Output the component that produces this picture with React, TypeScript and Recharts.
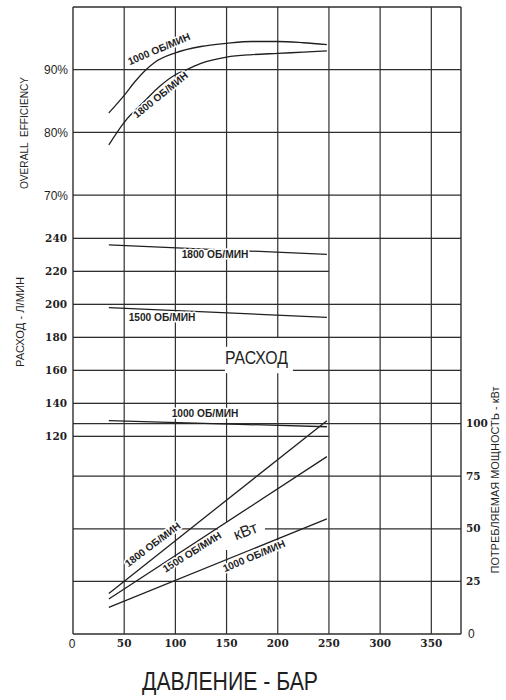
import React from 'react';
import { LineChart, Line, XAxis, YAxis, ReferenceLine } from 'recharts';

const W = 506;
const H = 700;

// Axis ticks
const pressureTicks = [0, 50, 100, 150, 200, 250, 300, 350];
const flowTicks = [120, 140, 160, 180, 200, 220, 240];
const powerTicks = [0, 25, 50, 75, 100];
const effTicks = [70, 80, 90];

// Overall efficiency, %, against pressure (bar)
const effPressure1000 = [35, 50, 60, 70, 80, 100, 125, 150, 175, 200, 225, 248];
const eff1000 = [83.1, 85.9, 88.0, 89.8, 91.2, 92.7, 93.7, 94.2, 94.5, 94.5, 94.3, 94.0];
const effPressure1800 = [35, 50, 70, 85, 100, 111, 125, 150, 175, 200, 225, 248];
const eff1800 = [78.0, 81.6, 85.0, 87.4, 89.2, 90.0, 91.0, 92.0, 92.4, 92.6, 92.8, 93.0];

// Flow (l/min) and absorbed power (kW): straight lines between end pressures
const linePressure = [35, 248];
const flow1800 = [235.8, 230.1];
const flow1500 = [197.8, 191.9];
const flow1000 = [129.3, 125.6];
const power1800 = [19.3, 101.4];
const power1500 = [16.6, 84.3];
const power1000 = [12.7, 54.7];

const rows = (ps: number[], vs: number[]) => ps.map((p, i) => ({ p, v: vs[i] }));

const X_MAX = 379;
const FLOW_MAX = 380;
const POWER_MAX = 298;
const EFF_MAX = 100;

// Plot box (chart margins + axis sizes)
const M_TOP = 7;
const M_BOTTOM = 36;
const X_AXIS_H = 30;
const LEFT_W = 73;
const RIGHT_W = 45;
const PLOT_L = LEFT_W;
const PLOT_R = W - RIGHT_W;
const PLOT_T = M_TOP;
const PLOT_B = H - M_BOTTOM - X_AXIS_H;

// Linear maps matching the chart's pressure and flow axes
const px = (p: number) => PLOT_L + (p / X_MAX) * (PLOT_R - PLOT_L);
const pyFlow = (v: number) => PLOT_B - (v / FLOW_MAX) * (PLOT_B - PLOT_T);

const INK = '#1f1f1f';
const GRID = '#2e2e2e';
const GW = 1.2;

const SERIF_BOLD = { fontFamily: '"DejaVu Serif", serif', fontWeight: 700, fontSize: 10.5, fill: INK };
const SANS = '"Liberation Sans", Arial, sans-serif';
const NARROW = '"Liberation Sans Narrow", "Arial Narrow", "Liberation Sans", sans-serif';

const XTick = (props: any) => {
  const { x, y, payload } = props;
  if (payload.value === 0) {
    return (
      <text x={x - 1} y={y + 14} textAnchor="middle" fontFamily={SANS} fontSize={12} fill={INK}>0</text>
    );
  }
  return (
    <text x={x} y={y + 13} textAnchor="middle" {...SERIF_BOLD}>{payload.value}</text>
  );
};

const FlowTick = (props: any) => {
  const { x, y, payload } = props;
  return (
    <text x={x - 6} y={y + 4} textAnchor="end" {...SERIF_BOLD}>{payload.value}</text>
  );
};

const PowerTick = (props: any) => {
  const { x, y, payload } = props;
  if (payload.value === 0) {
    return (
      <text x={x + 7} y={y + 4} textAnchor="start" fontFamily={SANS} fontSize={12} fill={INK}>0</text>
    );
  }
  return (
    <text x={x + 5} y={y + 3.5} textAnchor="start" {...SERIF_BOLD}>{payload.value}</text>
  );
};

const effLabel = (v: number) => (props: any) => {
  const vb = props.viewBox || {};
  return (
    <text x={vb.x - 5} y={vb.y + 4.5} textAnchor="end" fontFamily={SANS} fontSize={12} fill={INK}>
      {`${v}%`}
    </text>
  );
};

type Seg = [number, number];
const RATED = 250;

// Horizontal grid, as pressure spans on each scale
const flowGrid: { v: number; segs: Seg[] }[] = [
  { v: 240, segs: [[0, X_MAX]] },
  { v: 220, segs: [[0, RATED]] },
  { v: 200, segs: [[0, X_MAX]] },
  { v: 180, segs: [[0, X_MAX]] },
  { v: 160, segs: [[0, 148.4], [214.8, X_MAX]] },
  { v: 140, segs: [[0, X_MAX]] },
  { v: 120, segs: [[0, RATED]] },
];
const powerGrid: { v: number; segs: Seg[] }[] = [
  { v: 100, segs: [[0, X_MAX]] },
  { v: 75, segs: [[0, X_MAX]] },
  { v: 50, segs: [[0, 141.6], [187.5, X_MAX]] },
  { v: 25, segs: [[0, X_MAX]] },
];
// Vertical grid, spans on the efficiency scale (0..100 over the full height)
const verticalGrid: { v: number; segs: Seg[] }[] = [
  { v: 50, segs: [[0, 100]] },
  { v: 100, segs: [[0, 100]] },
  { v: 150, segs: [[0, 13.4], [17.9, 41.6], [45.8, 100]] },
  { v: 200, segs: [[0, 41.6], [47.2, 100]] },
  { v: 250, segs: [[0, 100]] },
  { v: 300, segs: [[0, 100]] },
  { v: 350, segs: [[0, 100]] },
];

const CurveLabel = ({ x, y, rot, text }: { x: number; y: number; rot: number; text: string }) => (
  <text
    transform={`translate(${x},${y}) rotate(${rot})`}
    textAnchor="middle"
    dominantBaseline="central"
    fontFamily={SANS}
    fontWeight={700}
    fontSize={10.2}
    fill={INK}
    stroke="#fff"
    strokeWidth={3}
    strokeLinejoin="round"
    style={{ paintOrder: 'stroke' }}
  >
    {text}
  </text>
);

export default function App() {
  const lineProps = { dataKey: 'v', dot: false, activeDot: false, stroke: INK, strokeWidth: 1.3, isAnimationActive: false } as const;
  const refProps = { stroke: GRID, strokeWidth: GW, ifOverflow: 'visible' } as const;
  return (
    <div style={{ position: 'absolute', left: 0, top: 0, width: W, height: H, background: '#fff' }}>
      <LineChart width={W} height={H} margin={{ top: M_TOP, right: 0, bottom: M_BOTTOM, left: 0 }}>
        <XAxis
          type="number"
          dataKey="p"
          domain={[0, X_MAX]}
          allowDataOverflow
          ticks={pressureTicks}
          interval={0}
          height={X_AXIS_H}
          axisLine={false}
          tickLine={false}
          tickSize={0}
          tickMargin={0}
          tick={<XTick />}
        />
        <YAxis
          yAxisId="flow"
          orientation="left"
          width={LEFT_W}
          type="number"
          domain={[0, FLOW_MAX]}
          allowDataOverflow
          ticks={flowTicks}
          interval={0}
          axisLine={false}
          tickLine={false}
          tickSize={0}
          tickMargin={0}
          tick={<FlowTick />}
        />
        <YAxis
          yAxisId="pow"
          orientation="right"
          width={RIGHT_W}
          type="number"
          domain={[0, POWER_MAX]}
          allowDataOverflow
          ticks={powerTicks}
          interval={0}
          axisLine={false}
          tickLine={false}
          tickSize={0}
          tickMargin={0}
          tick={<PowerTick />}
        />
        <YAxis yAxisId="eff" hide width={0} domain={[0, EFF_MAX]} allowDataOverflow type="number" />

        {/* efficiency grid with its tick labels */}
        {effTicks.map((v) => (
          <ReferenceLine key={`e${v}`} yAxisId="eff" y={v} {...refProps} label={effLabel(v)} />
        ))}
        {powerGrid.map(({ v, segs }) =>
          segs.map(([a, b], i) => (
            <ReferenceLine
              key={`p${v}-${i}`}
              yAxisId="pow"
              segment={[{ x: a, y: v }, { x: b, y: v }]}
              {...refProps}
            />
          ))
        )}
        {verticalGrid.map(({ v, segs }) =>
          segs.map(([a, b], i) => (
            <ReferenceLine
              key={`v${v}-${i}`}
              yAxisId="eff"
              segment={[{ x: v, y: a }, { x: v, y: b }]}
              {...refProps}
            />
          ))
        )}

        {/* frame */}
        <ReferenceLine yAxisId="eff" segment={[{ x: 0, y: 0 }, { x: 0, y: 100 }]} {...refProps} strokeWidth={1.4} />
        <ReferenceLine yAxisId="eff" segment={[{ x: X_MAX, y: 0 }, { x: X_MAX, y: 100 }]} {...refProps} strokeWidth={1.4} />
        <ReferenceLine yAxisId="eff" segment={[{ x: 0, y: 0 }, { x: X_MAX, y: 0 }]} {...refProps} strokeWidth={1.4} />
        <ReferenceLine yAxisId="eff" segment={[{ x: 0, y: 100 }, { x: X_MAX, y: 100 }]} {...refProps} strokeWidth={1.4} />

        {/* curves */}
        <Line {...lineProps} yAxisId="eff" type="monotone" data={rows(effPressure1000, eff1000)} />
        <Line {...lineProps} yAxisId="eff" type="monotone" data={rows(effPressure1800, eff1800)} />
        <Line {...lineProps} yAxisId="flow" type="linear" data={rows(linePressure, flow1800)} />
        <Line {...lineProps} yAxisId="flow" type="linear" data={rows(linePressure, flow1500)} />
        <Line {...lineProps} yAxisId="flow" type="linear" data={rows(linePressure, flow1000)} />
        <Line {...lineProps} yAxisId="pow" type="linear" data={rows(linePressure, power1800)} />
        <Line {...lineProps} yAxisId="pow" type="linear" data={rows(linePressure, power1500)} />
        <Line {...lineProps} yAxisId="pow" type="linear" data={rows(linePressure, power1000)} />
      </LineChart>

      <svg
        width={W}
        height={H}
        style={{ position: 'absolute', left: 0, top: 0, pointerEvents: 'none' }}
      >
        {/* flow grid levels, as thin filled bars */}
        {flowGrid.map(({ v, segs }) =>
          segs.map(([a, b], i) => (
            <rect
              key={`fg${v}-${i}`}
              x={px(a)}
              width={px(b) - px(a)}
              y={pyFlow(v) - 0.3}
              height={1.3}
              fill={GRID}
            />
          ))
        )}

        {/* axis titles */}
        <text
          transform="translate(24,133) rotate(-90)"
          textAnchor="middle"
          dominantBaseline="central"
          fontFamily={NARROW}
          fontSize={11}
          fill={INK}
          textLength={112}
          lengthAdjust="spacingAndGlyphs"
          style={{ whiteSpace: 'pre' }}
        >
          {'OVERALL  EFFICIENCY'}
        </text>
        <text
          transform="translate(20,322) rotate(-90)"
          textAnchor="middle"
          dominantBaseline="central"
          fontFamily={NARROW}
          fontSize={11}
          fill={INK}
          textLength={90}
          lengthAdjust="spacingAndGlyphs"
        >
          РАСХОД - Л/МИН
        </text>
        <text
          transform="translate(495,480) rotate(-90)"
          textAnchor="middle"
          dominantBaseline="central"
          fontFamily={NARROW}
          fontSize={11}
          fill={INK}
          textLength={187}
          lengthAdjust="spacingAndGlyphs"
        >
          ПОТРЕБЛЯЕМАЯ МОЩНОСТЬ - кВт
        </text>
        <text
          x={230}
          y={690}
          textAnchor="middle"
          fontFamily={NARROW}
          fontSize={25}
          fill={INK}
          textLength={176}
          lengthAdjust="spacingAndGlyphs"
        >
          ДАВЛЕНИЕ - БАР
        </text>

        {/* in-plot captions */}
        <text
          x={256.5}
          y={364}
          textAnchor="middle"
          fontFamily={NARROW}
          fontSize={19}
          fill={INK}
          textLength={63}
          lengthAdjust="spacingAndGlyphs"
        >
          РАСХОД
        </text>
        <text
          transform="translate(245.5,531) rotate(-21)"
          textAnchor="middle"
          dominantBaseline="central"
          fontFamily={SANS}
          fontSize={16}
          fill={INK}
        >
          кВт
        </text>

        <CurveLabel x={159} y={49} rot={-23} text="1000 ОБ/МИН" />
        <CurveLabel x={160.5} y={95} rot={-39} text="1800 ОБ/МИН" />
        <CurveLabel x={215} y={254} rot={0} text="1800 ОБ/МИН" />
        <CurveLabel x={162} y={317} rot={0} text="1500 ОБ/МИН" />
        <CurveLabel x={205} y={413} rot={0} text="1000 ОБ/МИН" />
        <CurveLabel x={152.7} y={544.5} rot={-37} text="1800 ОБ/МИН" />
        <CurveLabel x={192} y={552} rot={-32} text="1500 ОБ/МИН" />
        <CurveLabel x={254} y={556} rot={-23} text="1000 ОБ/МИН" />
      </svg>
    </div>
  );
}
